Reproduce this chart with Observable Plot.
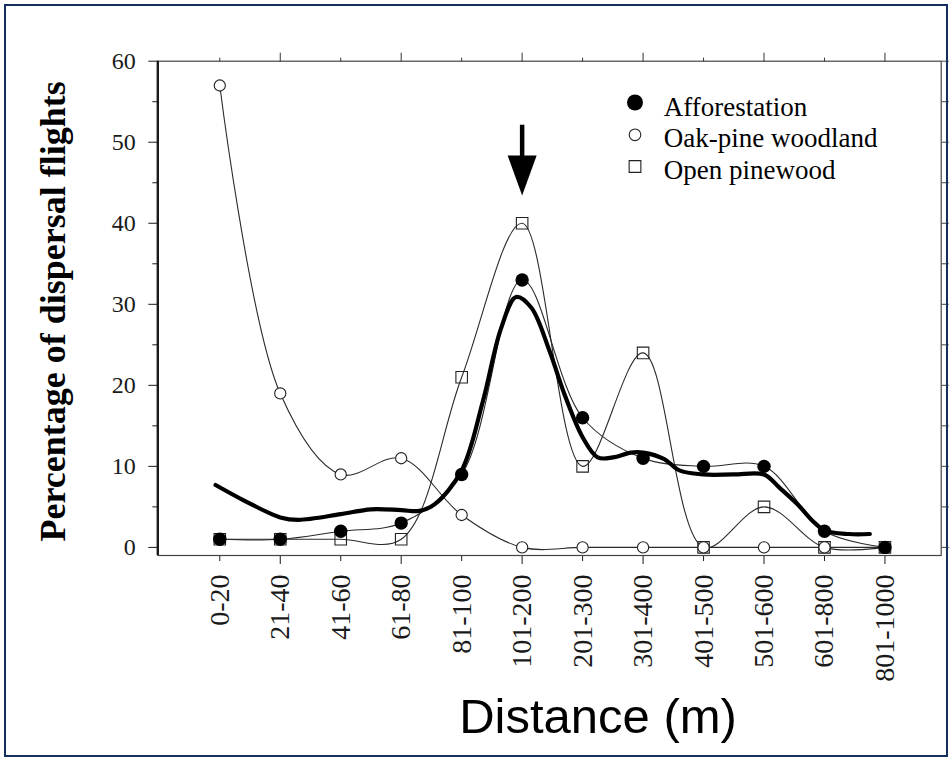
<!DOCTYPE html>
<html>
<head>
<meta charset="utf-8">
<script src="https://cdn.jsdelivr.net/npm/d3@7"></script>
<script src="https://cdn.jsdelivr.net/npm/@observablehq/plot@0.6"></script>
<style>
  html, body { margin: 0; padding: 0; background: #fff; }
  #wrap { position: relative; width: 952px; height: 760px; overflow: hidden; }
  #chart { position: absolute; left: 0; top: 0; }
  #border { position: absolute; left: 4px; top: 4px; width: 940px; height: 749px;
            border: 2px solid #16305e; pointer-events: none; }
</style>
</head>
<body>
<div id="wrap"><div id="chart"></div><div id="border"></div></div>
<script>
// Distance classes (m) on the x axis
const distanceClasses = ["0-20", "21-40", "41-60", "61-80", "81-100", "101-200",
  "201-300", "301-400", "401-500", "501-600", "601-800", "801-1000"];

// Percentage of dispersal flights per distance class, by habitat
const seriesNames = ["Afforestation", "Oak-pine woodland", "Open pinewood"];
const afforestation = [1, 1, 2, 3, 9, 33, 16, 11, 10, 10, 2, 0];
const oakPine       = [57, 19, 9, 11, 4, 0, 0, 0, 0, 0, 0, 0];
const openPine      = [1, 1, 1, 1, 21, 40, 10, 24, 0, 5, 0, 0];

// Overall smoothed trend (class index, percentage)
const trendClass   = [-0.07, 0.5, 1.0, 1.3, 2.0, 2.5, 3.0, 3.3, 3.55, 4.0, 4.35, 4.65, 4.9,
  5.15, 5.45, 5.7, 6.0, 6.25, 6.5, 6.8, 7.0, 7.35, 7.6, 8.0, 8.5, 9.0, 9.25, 9.55, 9.8,
  10.0, 10.4, 10.75];
const trendPercent = [7.7, 5.4, 3.7, 3.4, 4.1, 4.7, 4.6, 4.5, 5.3, 9.5, 18, 27, 30.9,
  29.6, 24.3, 18.9, 13.6, 11.1, 11.1, 11.7, 11.7, 10.9, 9.5, 9.0, 9.0, 9.0, 7.4, 5.35, 3.3,
  2.1, 1.65, 1.65];

// Axis ticks
const yMajorTicks = [0, 10, 20, 30, 40, 50, 60];
const yMinorTicks = [5, 15, 25, 35, 45, 55];
const yRightTicks = [0, 5, 10, 15, 20, 25, 30, 35, 40, 45, 50, 55, 60];

// Arrow pointing at the 101-200 m class
const arrowClass = 5;
const arrowTop = 52.1, arrowShaftEnd = 47.8, arrowHeadCenter = 45.9;

const idx = distanceClasses.map((_, i) => i);
const oddIdx = idx.filter(i => i % 2 === 1);
const evenIdx = idx.filter(i => i % 2 === 0);

const rows = idx.map(i => ({i, a: afforestation[i], o: oakPine[i], p: openPine[i]}));
const trendRows = trendClass.map((c, k) => ({c, v: trendPercent[k]}));

const serif = "'Liberation Serif', 'Times New Roman', serif";
const sans = "'Liberation Sans', Arial, sans-serif";
const ink = "#1a1a1a";

const arrowHead = {
  draw(ctx) {
    ctx.moveTo(-14.5, -20);
    ctx.lineTo(14.5, -20);
    ctx.lineTo(0, 20);
    ctx.closePath();
  }
};

const chart = Plot.plot({
  width: 952,
  height: 760,
  marginLeft: 157.3,
  marginRight: 11.3,
  marginTop: 60.7,
  marginBottom: 205,
  style: {fontFamily: serif, background: "white", color: ink, overflow: "visible"},
  x: {type: "linear", domain: [-1.025, 11.93]},
  y: {domain: [-1, 60]},
  marks: [
    // left axis: labelled major ticks, short minor ticks
    Plot.axisY(yMajorTicks, {anchor: "left", tickSize: 9, tickPadding: 13, fontSize: 24,
      fontFamily: serif, label: null, stroke: ink}),
    Plot.axisY(yMinorTicks, {anchor: "left", tickSize: 5, text: null, label: null, stroke: ink}),
    // right axis ticks
    Plot.axisY(yRightTicks, {anchor: "right", tickSize: 7, text: null, label: null, stroke: "#444"}),
    // bottom ticks (alternating lengths) and rotated class labels
    Plot.axisX(oddIdx, {anchor: "bottom", tickSize: 9, text: null, label: null, stroke: ink}),
    Plot.axisX(evenIdx, {anchor: "bottom", tickSize: 6, text: null, label: null, stroke: ink}),
    Plot.axisX(idx, {anchor: "bottom", tickSize: 0, tickPadding: 19, tickRotate: -90,
      tickFormat: i => distanceClasses[i], fontSize: 28, fontFamily: serif, label: null}),
    // top ticks
    Plot.axisX(oddIdx, {anchor: "top", tickSize: 9, text: null, label: null, stroke: "#333"}),
    Plot.axisX(evenIdx, {anchor: "top", tickSize: 4, text: null, label: null, stroke: "#333"}),
    Plot.frame({stroke: "#444", strokeWidth: 1.2}),
    Plot.ruleX([-1.025], {stroke: ink, strokeWidth: 2.4}),

    // per-habitat smoothed lines
    Plot.line(rows, {x: "i", y: "o", curve: "catmull-rom", stroke: "#2a2a2a", strokeWidth: 1.1}),
    Plot.line(rows, {x: "i", y: "p", curve: "catmull-rom", stroke: "#2a2a2a", strokeWidth: 1.1}),
    Plot.line(rows, {x: "i", y: "a", curve: "catmull-rom", stroke: "#2a2a2a", strokeWidth: 1.1}),
    // overall trend
    Plot.line(trendRows, {x: "c", y: "v", curve: "catmull-rom", stroke: "#000", strokeWidth: 4.2}),

    // markers
    Plot.dot(rows, {x: "i", y: "p", symbol: "square", r: 6.5, fill: "none", stroke: "#222", strokeWidth: 1.1}),
    Plot.dot(rows, {x: "i", y: "o", r: 5.6, fill: "white", stroke: "#222", strokeWidth: 1.1}),
    Plot.dot(rows, {x: "i", y: "a", r: 6.7, fill: "#000", stroke: "none"}),

    // arrow
    Plot.ruleX([arrowClass], {y1: arrowTop, y2: arrowShaftEnd, stroke: "#000", strokeWidth: 4.5}),
    Plot.dot([arrowClass], {x: d => d, y: () => arrowHeadCenter, symbol: arrowHead, fill: "#000", stroke: "none"}),

    // legend
    Plot.dot([0], {frameAnchor: "top-left", dx: 477.2, dy: 41.3, r: 8, fill: "#000", stroke: "none"}),
    Plot.dot([0], {frameAnchor: "top-left", dx: 477.2, dy: 73.6, r: 5.8, fill: "white", stroke: "#222", strokeWidth: 1.1}),
    Plot.dot([0], {frameAnchor: "top-left", dx: 477.2, dy: 105.3, symbol: "square", r: 6.6, fill: "none", stroke: "#222", strokeWidth: 1.1}),
    Plot.text([seriesNames.join("\n")], {frameAnchor: "top-left", dx: 506, dy: 31.8,
      text: d => d, textAnchor: "start", lineAnchor: "top", lineHeight: 1.174,
      fontSize: 27, fontFamily: serif, fill: "#000"}),

    // axis titles
    Plot.text(["Percentage of dispersal flights"], {frameAnchor: "left", text: d => d,
      textAnchor: "middle", rotate: -90, dx: -104, dy: 3, fontSize: 36, fontWeight: "bold",
      fontFamily: serif, fill: "#000"}),
    Plot.text(["Distance (m)"], {frameAnchor: "bottom", text: d => d, textAnchor: "middle",
      dx: 48.5, dy: 177, fontSize: 49, fontFamily: sans, fill: "#000"})
  ]
});

document.getElementById("chart").appendChild(chart);
</script>
</body>
</html>
